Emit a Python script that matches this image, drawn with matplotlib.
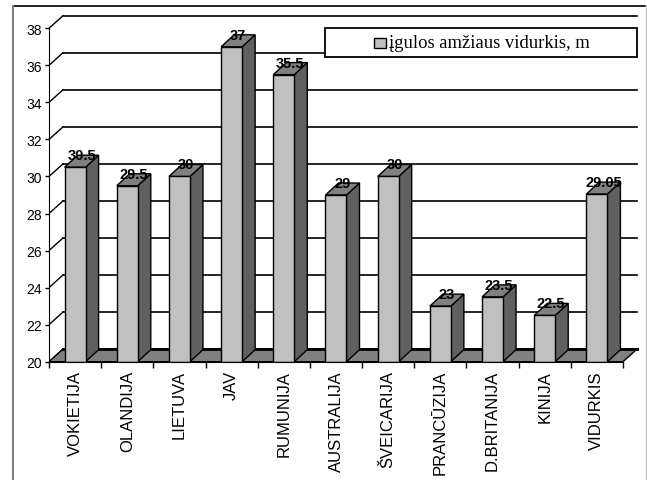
import matplotlib
matplotlib.use("Agg")
import matplotlib.pyplot as plt
from matplotlib.patches import Polygon, Rectangle
from matplotlib.lines import Line2D

categories = ["VOKIETIJA", "OLANDIJA", "LIETUVA", "JAV", "RUMUNIJA", "AUSTRALIJA",
              "ŠVEICARIJA", "PRANCŪZIJA", "D.BRITANIJA", "KINIJA", "VIDURKIS"]
values = [30.5, 29.5, 30, 37, 35.5, 29, 30, 23, 23.5, 22.5, 29.05]
y_ticks = [20, 22, 24, 26, 28, 30, 32, 34, 36, 38]
series_name = "įgulos amžiaus vidurkis, m"

W, H = 647, 481
fig = plt.figure(figsize=(W / 100, H / 100), dpi=100)

# plot area in pixels (front plane)
left_px, right_px = 49, 640
bottom_px, top_px = 362.7, 10
n = len(categories)
ymin, ymax = y_ticks[0], y_ticks[-1]
px_per_x = (623 - left_px) / n
px_per_y = (bottom_px - 29.3) / (ymax - ymin)
xlim_hi = (right_px - left_px) / px_per_x
ylim_hi = ymin + (bottom_px - top_px) / px_per_y

ax = fig.add_axes([left_px / W, (H - bottom_px) / H,
                   (right_px - left_px) / W, (bottom_px - top_px) / H])
ax.set_xlim(0, xlim_hi)
ax.set_ylim(ymin, ylim_hi)
ax.patch.set_alpha(0)

# 3-D depth offsets in data units
ddx, ddy = 14 / px_per_x, 12.6 / px_per_y        # walls / floor
bdx, bdy = 13 / px_per_x, 12.0 / px_per_y        # bars
bar_w = 21 / px_per_x

# back wall gridlines and side-wall diagonals
for v in y_ticks:
    lw = 2.0 if v == ymin else 1.2
    ax.add_line(Line2D([ddx, n + ddx], [v + ddy, v + ddy], color="black", lw=lw, zorder=1))
    ax.add_line(Line2D([0, ddx], [v, v + ddy], color="black", lw=1.0, zorder=1))

# floor
ax.add_patch(Polygon([(0, ymin), (n, ymin), (n + ddx, ymin + ddy), (ddx, ymin + ddy)],
                     closed=True, facecolor="#808080", edgecolor="black", lw=1.0, zorder=2))
ax.add_line(Line2D([ddx, n + ddx], [ymin + ddy, ymin + ddy], color="black", lw=2.0, zorder=2.1))

# bars
for i, v in enumerate(values):
    x0 = i + 0.5 - bar_w / 2
    x1 = x0 + bar_w
    front = Rectangle((x0, ymin), bar_w, v - ymin, facecolor="#c0c0c0",
                      edgecolor="black", lw=1.0, zorder=3)
    side = Polygon([(x1, ymin), (x1 + bdx, ymin + bdy), (x1 + bdx, v + bdy), (x1, v)],
                   closed=True, facecolor="#606060", edgecolor="black", lw=1.0, zorder=3)
    top = Polygon([(x0, v), (x1, v), (x1 + bdx, v + bdy), (x0 + bdx, v + bdy)],
                  closed=True, facecolor="#808080", edgecolor="black", lw=1.0, zorder=3)
    for p in (side, top, front):
        ax.add_patch(p)
    ax.text(i + 0.5 + bdx / 2, v + bdy, f"{v:g}", ha="center", va="center",
            fontsize=10.5, fontweight="bold", family="Liberation Sans", zorder=5)

# axes
for s in ("top", "right"):
    ax.spines[s].set_visible(False)
ax.spines["left"].set_bounds(ymin, ymax)
ax.spines["bottom"].set_bounds(0, n)
ax.spines["left"].set_zorder(4)
ax.spines["bottom"].set_zorder(4)

ax.set_yticks(y_ticks)
ax.set_yticklabels([str(t) for t in y_ticks], family="Liberation Sans", fontsize=10)
ax.tick_params(axis="y", direction="out", length=3, width=1, pad=2)

ax.set_xticks(range(n + 1))
ax.set_xticklabels([])
ax.tick_params(axis="x", which="major", direction="out", length=4.5, width=1)
ax.set_xticks([i + 0.5 for i in range(n)], minor=True)
ax.set_xticklabels(categories, minor=True, rotation=90, family="Liberation Sans", fontsize=12)
ax.tick_params(axis="x", which="minor", length=0, pad=6)

# legend box
def fx(px):
    return px / W

def fy(py):
    return (H - py) / H

fig.patches.append(Rectangle((fx(325), fy(58)), fx(637) - fx(325), fy(29) - fy(58),
                             transform=fig.transFigure, facecolor="white",
                             edgecolor="black", lw=1.3, zorder=10))
fig.patches.append(Rectangle((fx(374), fy(49)), fx(386) - fx(374), fy(39) - fy(49),
                             transform=fig.transFigure, facecolor="#c0c0c0",
                             edgecolor="black", lw=1.0, zorder=11))
fig.text(fx(389), fy(43.5), series_name, ha="left", va="center",
         family="Liberation Serif", fontsize=13.4, zorder=12)

# outer chart frame
fig.add_artist(Line2D([fx(13), fx(645)], [fy(7), fy(7)], transform=fig.transFigure,
                      color="black", lw=1.2))
fig.add_artist(Line2D([fx(13), fx(13)], [fy(7), fy(490)], transform=fig.transFigure,
                      color="#808080", lw=1.5))
fig.add_artist(Line2D([fx(645.5), fx(645.5)], [fy(7), fy(490)], transform=fig.transFigure,
                      color="#c8c8c8", lw=1.0))

fig.savefig("out.png", dpi=100)
